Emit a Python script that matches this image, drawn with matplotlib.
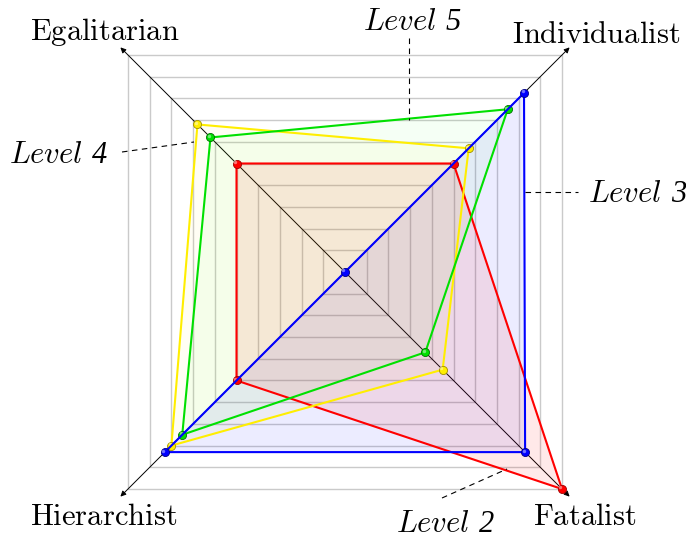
import numpy as np
from matplotlib import pyplot as plt

plt.rcParams['mathtext.fontset'] = 'cm'

categories = ["Egalitarian", "Individualist", "Fatalist", "Hierarchist"]
red = [5.0, 5.0, 10.0, 5.0]
green = [6.2, 7.5, 3.7, 7.5]
yellow = [6.8, 5.7, 4.5, 8.0]
blue = [0.0, 8.25, 8.3, 8.3]
levels = list(range(1, 11))

# diagonal directions of each axis
dirs = np.array([[-1, 1], [1, 1], [1, -1], [-1, -1]])

S = 21.7  # pixels per level
CX, CY = 345, 272


def px(x, y):
    return (x - CX) / S, (CY - y) / S


fig = plt.figure(figsize=(6.86, 5.38), dpi=100)
ax = fig.add_axes([0, 0, 1, 1])
ax.set_xlim(-CX / S, (686 - CX) / S)
ax.set_ylim((CY - 538) / S, CY / S)
ax.set_aspect('equal')
ax.axis('off')

# grid squares
for k in levels:
    sq = np.vstack([dirs * k, dirs[:1] * k])
    ax.plot(sq[:, 0], sq[:, 1], color='#cacaca', lw=1.0, zorder=1)

# axes arrows
for d in dirs:
    ax.annotate("", xy=d * 10.35, xytext=(0, 0),
                arrowprops=dict(arrowstyle='-|>', color='black', lw=0.7,
                                mutation_scale=8, shrinkA=0, shrinkB=0),
                zorder=2)

# fills
fills = [(yellow, '#ffee00', 0.045), (green, '#00ff00', 0.04),
         (blue, '#0000ff', 0.075), (red, '#ff0000', 0.085)]
for vals, c, a in fills:
    pts = dirs * np.array(vals)[:, None]
    ax.fill(pts[:, 0], pts[:, 1], color=c, alpha=a, lw=0, zorder=3)

# outlines and balls
series = [(red, '#ff0000', '#a00000'), (yellow, '#ffee00', '#a09000'),
          (green, '#00e000', '#007000'), (blue, '#0000ff', '#000080')]
z = 4
for vals, c, ec in series:
    pts = dirs * np.array(vals)[:, None]
    closed = np.vstack([pts, pts[:1]])
    ax.plot(closed[:, 0], closed[:, 1], color=c, lw=1.5, zorder=z)
    ax.scatter(pts[:, 0], pts[:, 1], s=34, color=c, edgecolor=ec, lw=0.6, zorder=z + 0.5)
    ax.scatter(pts[:, 0] - 0.07, pts[:, 1] + 0.07, s=6, color='white', alpha=0.45, lw=0, zorder=z + 0.6)
    z += 1

fs = 22

# category labels
lab_pos = [(105, 40), (596, 43), (585, 525), (104, 525)]
for name, (x, y) in zip(categories, lab_pos):
    ax.text(*px(x, y), r'$\mathrm{%s}$' % name, fontsize=fs, ha='center', va='baseline')

renderer = fig.canvas.get_renderer()


def level_label(xc, yb, digit):
    x0, y0 = px(xc, yb)
    t1 = ax.text(x0, y0, r'$\mathit{Level}$', fontsize=fs, ha='left', va='baseline')
    t2 = ax.text(x0, y0, digit, fontsize=fs, family='Liberation Serif', style='italic',
                 ha='left', va='baseline')
    w1 = t1.get_window_extent(renderer).width
    w2 = t2.get_window_extent(renderer).width
    gap = 0.3 * fs * 100 / 72
    left = xc - (w1 + gap + w2) / 2
    t1.set_x(px(left, yb)[0])
    t2.set_x(px(left + w1 + gap, yb)[0])


# level annotations
dash = dict(color='black', lw=0.8, ls=(0, (5, 4)), zorder=10)


def dashed(p1, p2):
    a, b = px(*p1), px(*p2)
    ax.plot([a[0], b[0]], [a[1], b[1]], **dash)


dashed((409, 38), (409, 120))
level_label(412, 30, "5")
dashed((122, 152), (194, 142))
level_label(58, 163, "4")
dashed((525, 192), (578, 192))
level_label(637, 202, "3")
dashed((442, 498), (507, 469))
level_label(445, 532, "2")

fig.savefig("out.png", dpi=100)
